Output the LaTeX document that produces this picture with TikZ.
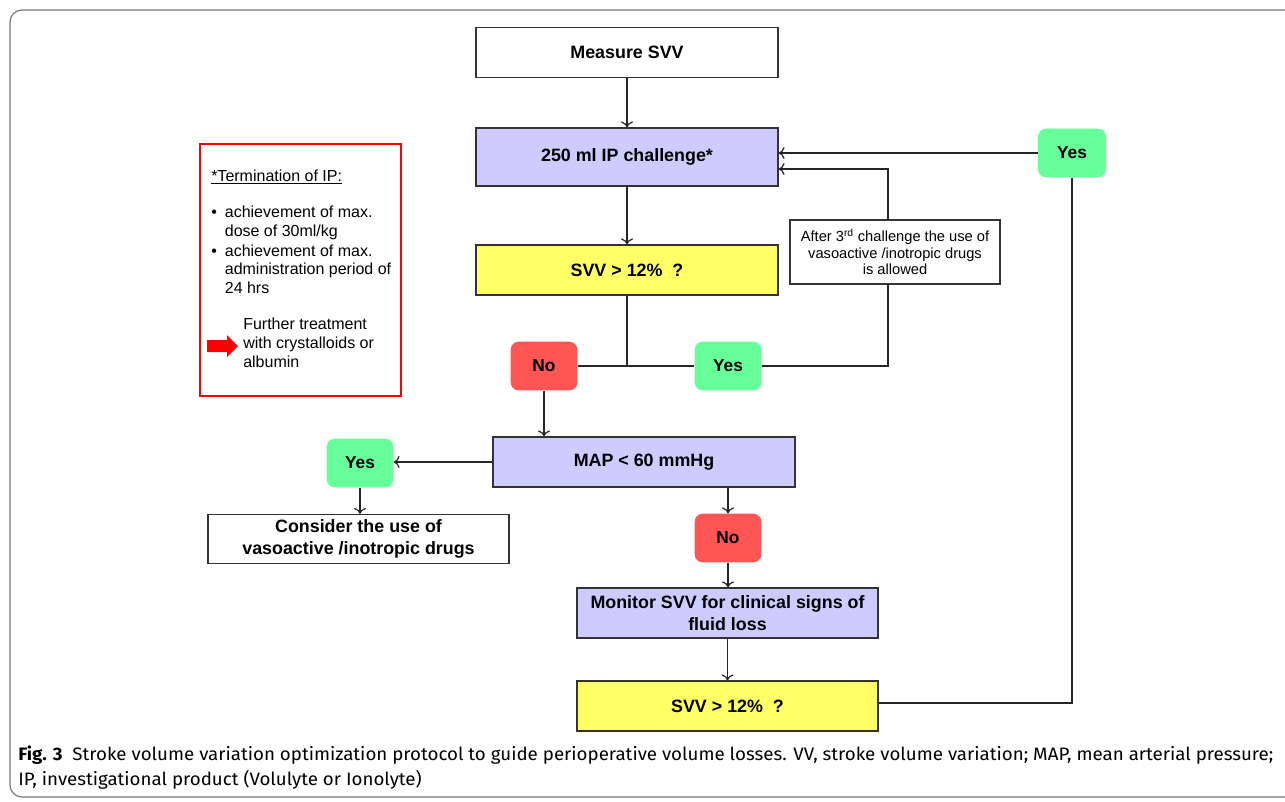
\documentclass[tikz,border=0pt]{standalone}
\usepackage{fontspec}
\setmainfont{Liberation Sans}
\newfontfamily\capfont[FakeStretch=1.04]{Fira Sans}
\usetikzlibrary{positioning,arrows.meta}
\definecolor{lav}{HTML}{CCCCFF}
\definecolor{yel}{HTML}{FFFF66}
\definecolor{nored}{HTML}{FF5555}
\definecolor{yesgreen}{HTML}{66FF99}
\definecolor{framegray}{HTML}{777777}

\begin{document}
\begin{tikzpicture}
[x=0.75pt,y=-0.75pt,>={To[length=4.5pt,width=9pt]},
 box/.style={draw=black!80,line width=0.9pt,minimum width=226.5pt,minimum height=37.5pt,
   font=\fontsize{13.4}{15}\selectfont\bfseries,align=center,inner sep=2pt},
 yn/.style={rounded corners=6pt,minimum width=50pt,minimum height=36.5pt,
   font=\fontsize{13}{15}\selectfont\bfseries},
 yes/.style={yn,fill=yesgreen},
 no/.style={yn,fill=nored},
 conn/.style={draw=black!85,line width=0.9pt},
 arr/.style={conn,->},
 legtext/.style={font=\fontsize{12}{14}\selectfont,inner sep=0pt,align=left}]
\useasboundingbox (0,0) rectangle (1285,801);
\draw[framegray,line width=0.9pt,rounded corners=9pt] (1300,797) -- (10,797) -- (10,10) -- (1300,10);

\node[box] (measure) at (627,52.5) {Measure SVV};
\node[box,fill=lav,minimum height=43.5pt] (ipchal) at (627,157) {250 ml IP challenge*};
\node[box,fill=yel] (svva) at (627,270) {SVV > 12\%\ \ ?};
\node[no] (noa) at (544,366) {No};
\node[yes] (yesa) at (728,366) {Yes};
\node[box,minimum width=157.5pt,minimum height=48pt,font=\fontsize{11}{12.5}\selectfont] (after) at (895,252)
  {After 3\textsuperscript{rd} challenge the use of\\ vasoactive /inotropic drugs\\ is allowed};
\node[yes,minimum width=51pt] (yesb) at (1072,153) {Yes};
\node[box,fill=lav] (map) at (644,462) {MAP < 60 mmHg};
\node[yes] (yesc) at (360,463) {Yes};
\node[box,minimum width=225.75pt,minimum height=36.75pt,font=\fontsize{13.4}{16.5}\selectfont\bfseries] (consider) at (358.5,539)
  {Consider the use of\\ vasoactive /inotropic drugs};
\node[no] (nob) at (728,538) {No};
\node[box,fill=lav,minimum width=225.75pt,font=\fontsize{13.4}{16}\selectfont\bfseries] (monitor) at (727.5,613)
  {Monitor SVV for clinical signs of\\ fluid loss};
\node[box,fill=yel,minimum width=225.75pt] (svvb) at (727.5,706) {SVV > 12\%\ \ ?};

\draw[arr] (measure) -- (ipchal);
\draw[arr] (ipchal) -- (svva);
\draw[conn] (svva.south) -- (svva.south |- noa.east) coordinate (junc);
\draw[conn] (noa.east) -- (yesa.west);
\draw[conn] (yesa.east) -| ([xshift=-5.25pt]after.south);
\draw[arr] ([xshift=-5.25pt]after.north) |- ([yshift=-9pt]ipchal.east);
\draw[arr] (yesb.west) -- (yesb.west -| ipchal.east);
\draw[conn] (yesb.south) |- ([yshift=2.25pt]svvb.east);
\draw[arr] (noa.south) -- (noa.south |- map.north);
\draw[arr] (map.west) -- (map.west -| yesc.east);
\draw[arr] (yesc.south) -- (yesc.south |- consider.north);
\draw[arr] (nob.north |- map.south) -- (nob.north);
\draw[arr] (nob.south) -- (nob.south |- monitor.north);
\draw[arr] (monitor.south) -- (monitor.south |- svvb.north);

% legend
\node[draw=red,line width=1.7pt,minimum width=150.75pt,minimum height=189pt] (legbox) at (300.5,270) {};
\node[legtext,anchor=base west] (legtitle) at (211,181) {\underline{*Termination of IP:}};
\node[legtext,anchor=north west] (legitems) at (211,204)
  {\begin{tabular}{@{}l@{\hspace{6pt}}l@{}}
   \textbullet & achievement of max.\\
   & dose of 30ml/kg\\[1pt]
   \textbullet & achievement of max.\\
   & administration period of\\
   & 24 hrs
   \end{tabular}};
\node[legtext,anchor=north west] (legfurther) at (243,318)
  {Further treatment\\ with crystalloids or\\ albumin};
\fill[red] (207,340) -- (227,340) -- (227,335) -- (238,346) -- (227,357) -- (227,352) -- (207,352) -- cycle;

\node[anchor=north west,inner sep=0pt,align=left,font=\capfont\fontsize{13.5}{18.75}\selectfont] (caption) at (18,746)
  {\textbf{Fig. 3}\ \ Stroke volume variation optimization protocol to guide perioperative volume losses. VV, stroke volume variation; MAP, mean arterial pressure;\\
   IP, investigational product (Volulyte or Ionolyte)};
\end{tikzpicture}
\end{document}
